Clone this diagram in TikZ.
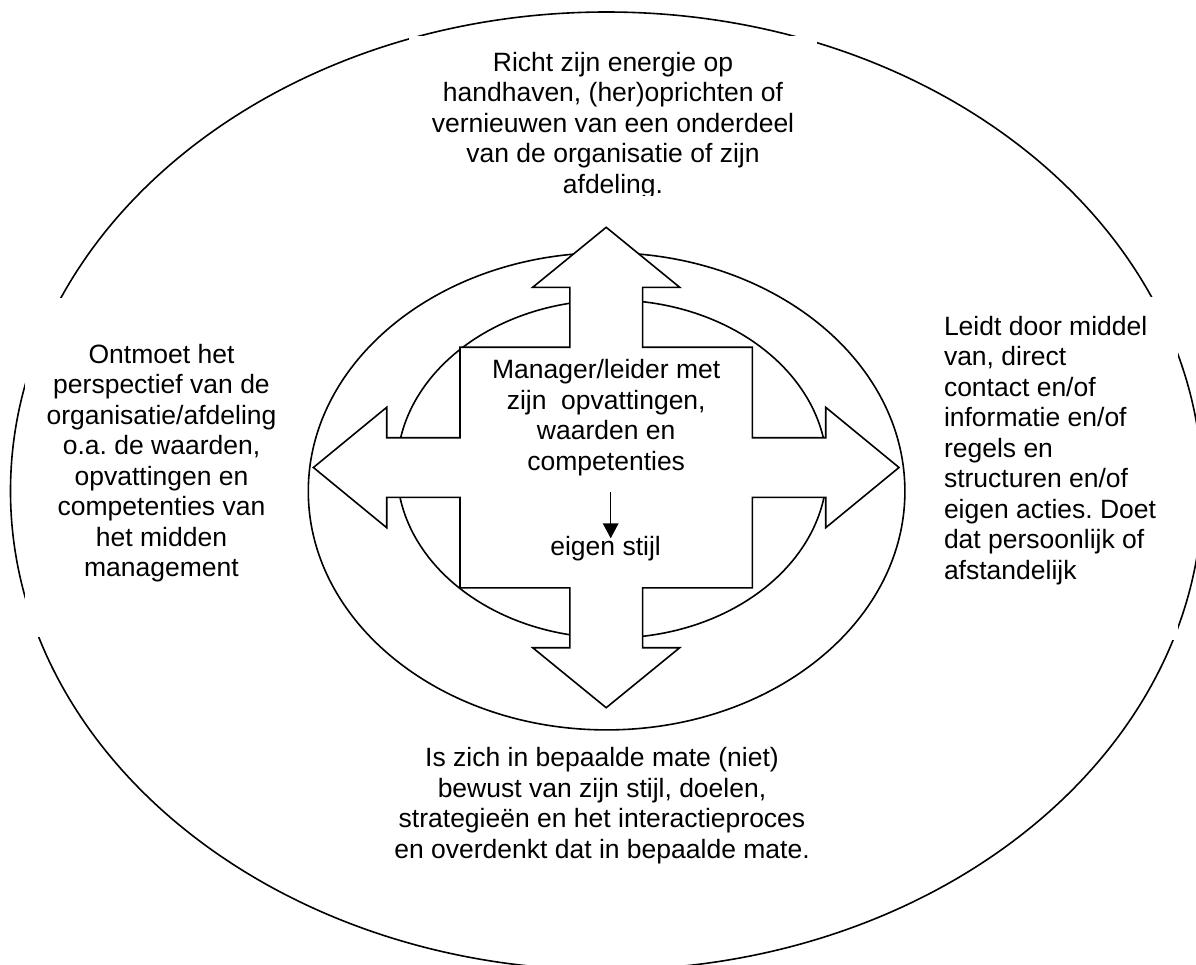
\documentclass[tikz,border=0pt]{standalone}
\usepackage{fontspec}
\setmainfont{Liberation Sans}
\usetikzlibrary{arrows.meta}
\frenchspacing
\tikzset{
  txt/.style={font=\fontsize{13.25pt}{15.25pt}\selectfont\frenchspacing, inner sep=0pt, outer sep=0pt},
  ln/.style={line width=0.8pt, black},
  cross/.style={line width=0.8pt, draw=black, fill=white, line join=miter},
  smallarrow/.style={line width=0.75pt, -{Triangle[length=7.5pt,width=7.8pt]}}
}
\begin{document}
\begin{tikzpicture}[x=0.5pt,y=-0.5pt]
\useasboundingbox (0,0) rectangle (1196,965);
\fill[white] (0,0) rectangle (1196,965);
\clip (0,0) rectangle (1196,965);
% outer ellipse
\draw[ln] (606.5,491) ellipse [x radius=596, y radius=479];
% white text boxes covering the outer ellipse
\fill[white] (409,35.5) rectangle (817,195);
\fill[white] (25,298) rectangle (298.5,636.5);
\fill[white] (940,297) rectangle (1177.5,640);
% middle and inner ellipse
\draw[ln] (606.6,491.3) ellipse [x radius=298.3, y radius=238.6];
\draw[ln] (612,469) ellipse [x radius=215, y radius=169];
% four-way arrow
\begin{scope}[shift={(606.2,467.5)}]
\coordinate (cc) at (0,0);
\draw[cross]
  (0,-240.2) -- (73.5,-180.2) -- (36.4,-180.2) -- (36.4,-120.3) -- (146.2,-120.3)
  -- (146.2,-29.8) -- (219.5,-29.8) -- (219.5,-60.2) -- (292.8,0) -- (219.5,60.2)
  -- (219.5,29.8) -- (146.2,29.8) -- (146.2,120.3) -- (36.4,120.3) -- (36.4,180.2)
  -- (73.5,180.2) -- (0,240.2) -- (-73.5,180.2) -- (-36.4,180.2) -- (-36.4,120.3)
  -- (-146.2,120.3) -- (-146.2,29.8) -- (-219.5,29.8) -- (-219.5,60.2) -- (-292.8,0)
  -- (-219.5,-60.2) -- (-219.5,-29.8) -- (-146.2,-29.8) -- (-146.2,-120.3)
  -- (-36.4,-120.3) -- (-36.4,-180.2) -- (-73.5,-180.2) -- cycle;
\end{scope}
% texts
\begin{scope}
\clip (409,35.5) rectangle (817,195.5);
\node[txt, align=center, anchor=north] (toptext) at (613,52) {Richt zijn energie op\\handhaven, (her)oprichten of\\vernieuwen van een onderdeel\\van de organisatie of zijn\\afdeling.};
\end{scope}
\node[txt, align=center, anchor=north] (lefttext) at (161.5,344.2) {Ontmoet het\\perspectief van de\\organisatie/afdeling\\o.a. de waarden,\\opvattingen en\\competenties van\\het midden\\management};
\node[txt, align=left, anchor=north west] (righttext) at (944,316) {Leidt door middel\\van, direct\\contact en/of\\informatie en/of\\regels en\\structuren en/of\\eigen acties. Doet\\dat persoonlijk of\\afstandelijk};
\node[txt, align=center, anchor=north] (centertext) at (606.2,359.3) {Manager/leider met\\zijn\ \ opvattingen,\\waarden en\\competenties};
\node[txt, anchor=north] (stijl) at (605.6,536) {eigen stijl};
\node[txt, align=center, anchor=north] (bottomtext) at (602,747.4) {Is zich in bepaalde mate (niet)\\bewust van zijn stijl, doelen,\\strategieën en het interactieproces\\en overdenkt dat in bepaalde mate.};
% small arrow
\coordinate (arrs) at (610.7,491.5);
\coordinate (arre) at (610.7,538.3);
\draw[smallarrow] (arrs) -- (arre);
\end{tikzpicture}
\end{document}
